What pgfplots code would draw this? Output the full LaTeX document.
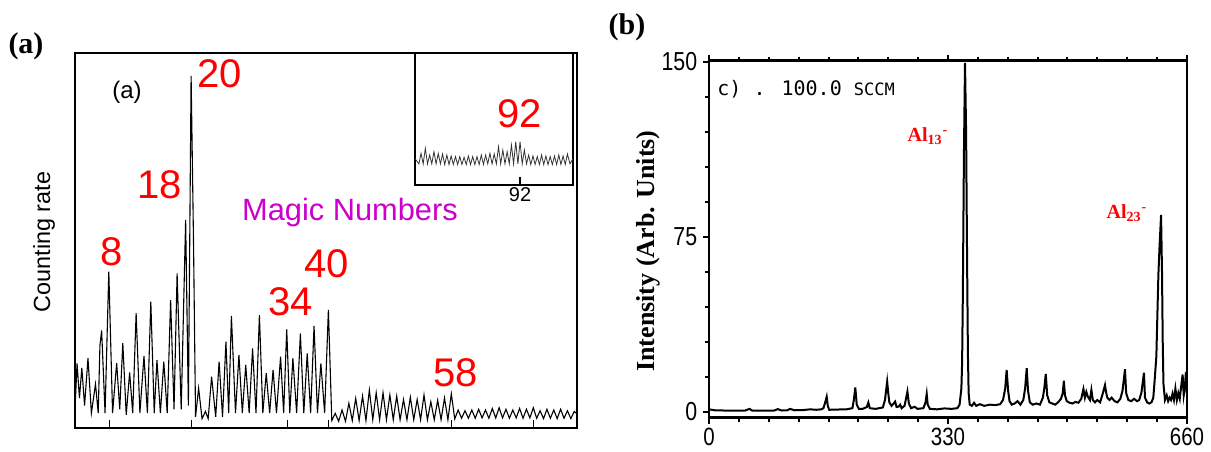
\documentclass[border=0pt]{standalone}
\usepackage{pgfplots}
\pgfplotsset{compat=1.18}
\usepackage{pgfplotstable}
\usepackage{fontspec}
\usepackage{graphicx}
\setmainfont{Liberation Serif}
\newfontfamily\arial{Liberation Sans}
\newfontfamily\mono{DejaVu Sans Mono}
\definecolor{magic}{RGB}{204,0,204}

\pgfplotstableread{
x y
2.95 7
3.2 17.2
3.55 8
3.9 16
4.3 6
4.8 18.6
5.3 4
5.9 11.7
6.3 4
6.55 22
6.8 26
7.3 4
7.85 41.7
8.4 4
9.0 17.3
9.45 5
9.9 22.6
10.4 3.5
10.9 14.8
11.35 4
11.85 30.6
12.4 4
13.0 19.2
13.5 4
14.0 33.7
14.5 4
14.9 18.1
15.4 4
15.9 17.7
16.4 4
16.9 34.1
17.4 5
17.85 41.2
18.45 5
19.1 55.5
19.5 6
19.9 93.9
20.25 50
20.55 3
21.0 10.6
21.5 2.5
22.0 4.4
22.4 2.5
22.9 13.7
23.5 3
24.0 17.7
24.5 3
25.0 23
25.4 4
25.8 29.9
26.4 4
26.9 19.5
27.4 4
27.9 16.8
28.4 4
28.9 21.2
29.4 4
29.9 30.1
30.4 4
30.9 14.6
31.4 4
31.9 15.5
32.4 4
33.0 19
33.45 4
33.9 26.3
34.35 4
34.8 18.6
35.35 4
35.9 25.2
36.4 4
36.9 19.9
37.4 4
37.9 27.2
38.4 4
38.9 17.2
39.45 4
40.0 31.5
40.5 2
41 3.9
41.5 1.8
42 4.8
42.5 1.8
43 6.6
43.5 2
44 7.9
44.5 2
45 8.5
45.5 2
46 10.1
46.5 2.2
47 9.4
47.5 2.2
48 9.4
48.5 2.2
49 8.8
49.5 2.2
50 8.5
50.5 2.2
51 7.6
51.5 2.2
52 8.2
52.5 2.2
53 7.6
53.5 2.2
54 8.8
54.5 2.2
55 7
55.5 2.2
56 7.4
56.5 2.2
57 8
57.5 2.2
58 9.1
58.5 2.4
59 4.8
59.5 2.6
60 4.6
60.5 2.6
61 4.8
61.5 2.6
62 5.0
62.5 2.7
63 4.8
63.5 2.6
64 5.2
64.5 2.7
65 5.4
65.5 2.7
66 5.0
66.5 2.6
67 4.8
67.5 2.7
68 5.2
68.5 2.6
69 5.0
69.5 2.7
70 5.4
70.5 2.6
71 4.6
71.5 2.5
72 5.0
72.5 2.6
73 4.8
73.5 2.5
74 5.0
74.5 2.6
75 4.6
75.5 2.5
76 4.4
76.4 3.8
}\spectrumA

\pgfplotstableread{
x y
67.6 20
68.5 16
69 24
69.5 16
70 27.8
70.5 16
71 22.7
71.5 16
72 25.3
72.5 16
73 24
73.5 16
74 23.5
74.5 15.5
75 22.7
75.5 15.5
76 22
76.5 15.5
77 21.5
77.5 15.5
78 21.5
78.5 15.5
79 21
79.5 15.5
80 22
80.5 15.5
81 21.5
81.5 15.5
82 21.5
82.5 15.5
83 22.7
83.5 15.5
84 22.7
84.5 16
85 24
85.5 16
86 23.5
86.5 16
87 29
87.5 16
88 26.5
88.5 16
89 25.3
89.5 16
90 30.3
90.5 16
91 32.8
91.5 16
92 32.8
92.5 16
93 26.5
93.5 16
94 22.7
94.5 15.5
95 22
95.5 15.5
96 21.5
96.5 15.5
97 22.7
97.5 15.5
98 22
98.5 15.5
99 21.5
99.5 15.5
100 22
100.5 15.5
101 22.7
101.5 15.5
102 22
102.5 15.5
103 23.5
103.6 16
104.3 20
}\spectrumInset

\pgfplotstableread{
x y
0 1.0
8 0.6
20 0.5
35 0.4
50 0.5
56 1.2
60 0.4
75 0.4
90 0.5
95 1.1
100 0.5
108 0.6
112 1.2
118 0.6
130 0.7
140 1.0
148 0.8
155 1.0
158 1.5
160 3.5
162.5 6.4
164 2.5
166 0.8
175 0.9
190 1.0
198 1.5
200 5
202 10.4
204 3
207 1.2
212 1.2
218 2
220 3.9
222 1.5
230 1.2
240 1.8
243 5
244.5 9
246 12.9
247.5 8
249 4
252 2.5
255 3.5
257 4.3
259 2
262 2.2
264 3
266 1.5
270 2.5
272 5.5
274 8.6
276 3.5
279 1.5
284 2.1
288 1.2
296 1.5
299 4
300.6 7.6
302 3
305 1.2
315 1.0
325 1.4
335 1.2
343 1.5
346 3
348.5 10
349.5 21
350.5 50
352 110
353.5 149.5
355 120
356.5 60
357.5 25
358.5 8
360 3
363 2.5
366 3.8
369 2.5
374 3.2
380 2.5
388 3
395 2.8
402 3.2
406 5
409 10
411 17.9
413 9
415 4.5
418 3
422 3.5
426 4.5
430 3
434 5
436.5 10
438.7 18.6
440.5 9
443 4
447 3
452 3.5
457 3
461 6
463 10
465 16.2
467 7
470 4
474 3.5
478 3
482 4
486 5.5
488.5 8
490 13.3
491.5 7
494 4.5
498 3.8
502 3.5
506 4.2
510 3.8
514 5.5
517 9.7
519 6
521 8.5
523 6.5
526 5
528 9.3
530 5
533 4
536 5
540 4
543 7
546.8 11.4
548.5 8
550 6
553 5
556 6
560 4.5
564 4
568 5.5
571 9
574.4 18.2
576 8
579 5
583 4.5
587 5.5
591 4.5
594 5
597 8
600.6 16.7
602 6
605 4
608 3.5
611 4
613.5 6
615 12
617.7 23.6
619 40
620.5 58.6
622 70
624.2 84.3
625.5 60
626.5 30
627.5 12
629.6 5
632 7
634 4.5
636 6
638 5
640 7.7
642 5
644 9.9
646 5
648 8
650 5.5
652 11
654 15.9
655.5 7
657 10
658.5 17
660 8
}\spectrumB

\begin{document}
\begin{tikzpicture}
% ---------- panel (a) ----------
\begin{axis}[
  at={(37.5pt,11.5pt)}, anchor=south west, scale only axis,
  width=251pt, height=187.5pt,
  xmin=2.9, xmax=76.4, ymin=0, ymax=100,
  axis line style={line width=0.6pt},
  xtick={8,20,34,40,58,70}, xticklabels={}, ytick=\empty,
  tick pos=left, tick align=inside, major tick length=4pt,
  tick style={line width=0.6pt, black},
]
\addplot[black, line width=0.55pt] table[x=x,y=y] {\spectrumA};
\end{axis}
% inset
\begin{axis}[
  at={(207.5pt,133pt)}, anchor=south west, scale only axis,
  width=79pt, height=66pt,
  xmin=67.6, xmax=104.3, ymin=0, ymax=100,
  axis background/.style={fill=white},
  axis line style={line width=0.6pt},
  xtick={92}, ytick=\empty,
  tick pos=left, tick align=inside, major tick length=4pt,
  tick style={line width=0.6pt, black},
  /pgf/number format/assume math mode=true,
  xticklabel style={font=\arial\fontsize{10}{10}\selectfont, inner sep=1pt},
]
\addplot[black!80, line width=0.4pt] table[x=x,y=y] {\spectrumInset};
\end{axis}
% ---------- panel (b) ----------
\begin{axis}[
  at={(354.5pt,16.75pt)}, anchor=south west, scale only axis,
  width=239pt, height=178.5pt,
  xmin=0, xmax=660, ymin=-2.5, ymax=150.5,
  axis line style={line width=1.3pt},
  xtick={0,330,660}, ytick={0,75,150},
  minor xtick={41.25,82.5,123.75,165,206.25,247.5,288.75,371.25,412.5,453.75,495,536.25,577.5,618.75},
  minor ytick={15,30,45,60,90,105,120,135},
  xtick pos=both, ytick pos=left,
  tick align=outside, major tick length=3pt, minor tick length=2pt,
  tick style={line width=1pt, black},
  /pgf/number format/assume math mode=true,
  xticklabel style={font=\arial\fontsize{12.5}{12.5}\selectfont, xscale=0.82, inner sep=1pt, yshift=-1pt},
  yticklabel style={font=\arial\fontsize{13}{13}\selectfont, xscale=0.82},
]
\addplot[black, line width=1pt] table[x=x,y=y] {\spectrumB};
\end{axis}
% ---------- texts ----------
\node[inner sep=0] at (13pt,202.5pt) {\fontsize{15}{15}\selectfont\bfseries (a)};
\node[inner sep=0] at (313.5pt,212pt) {\fontsize{15}{15}\selectfont\bfseries (b)};
\node[inner sep=0, rotate=90] at (22pt,104.5pt) {\arial\fontsize{11.7}{12}\selectfont Counting rate};
\node[inner sep=0] at (63.5pt,179.5pt) {\arial\fontsize{12}{12}\selectfont (a)};
\begin{scope}[every node/.style={inner sep=0, text=red, font=\arial\fontsize{20}{20}\selectfont}]
\node at (110pt,188.5pt) {20};
\node at (80pt,133pt) {18};
\node at (55.75pt,99.5pt) {8};
\node at (163.5pt,93.5pt) {40};
\node at (145.5pt,74.5pt) {34};
\node at (228pt,39pt) {58};
\node at (259.75pt,168.5pt) {92};
\end{scope}
\node[inner sep=0, anchor=base, text=magic] at (175pt,115.5pt) {\arial\fontsize{15.4}{16}\selectfont Magic Numbers};
\node[inner sep=0, rotate=90] at (324pt,100pt) {\fontsize{13}{13}\selectfont\bfseries Intensity (Arb. Units)};
\node[inner sep=0, anchor=west] at (358.5pt,181pt) {\mono\fontsize{10}{10}\selectfont c) . 100.0 {\fontsize{8.5}{8.5}\selectfont SCCM}};
\node[inner sep=0, text=red] at (464pt,157.5pt) {\fontsize{10}{10}\selectfont\bfseries Al\textsubscript{13}\textsuperscript{-}};
\node[inner sep=0, text=red] at (563.5pt,119pt) {\fontsize{10}{10}\selectfont\bfseries Al\textsubscript{23}\textsuperscript{-}};
\pgfresetboundingbox
\path (0,0) rectangle (605.5pt,225.5pt);
\end{tikzpicture}
\end{document}
